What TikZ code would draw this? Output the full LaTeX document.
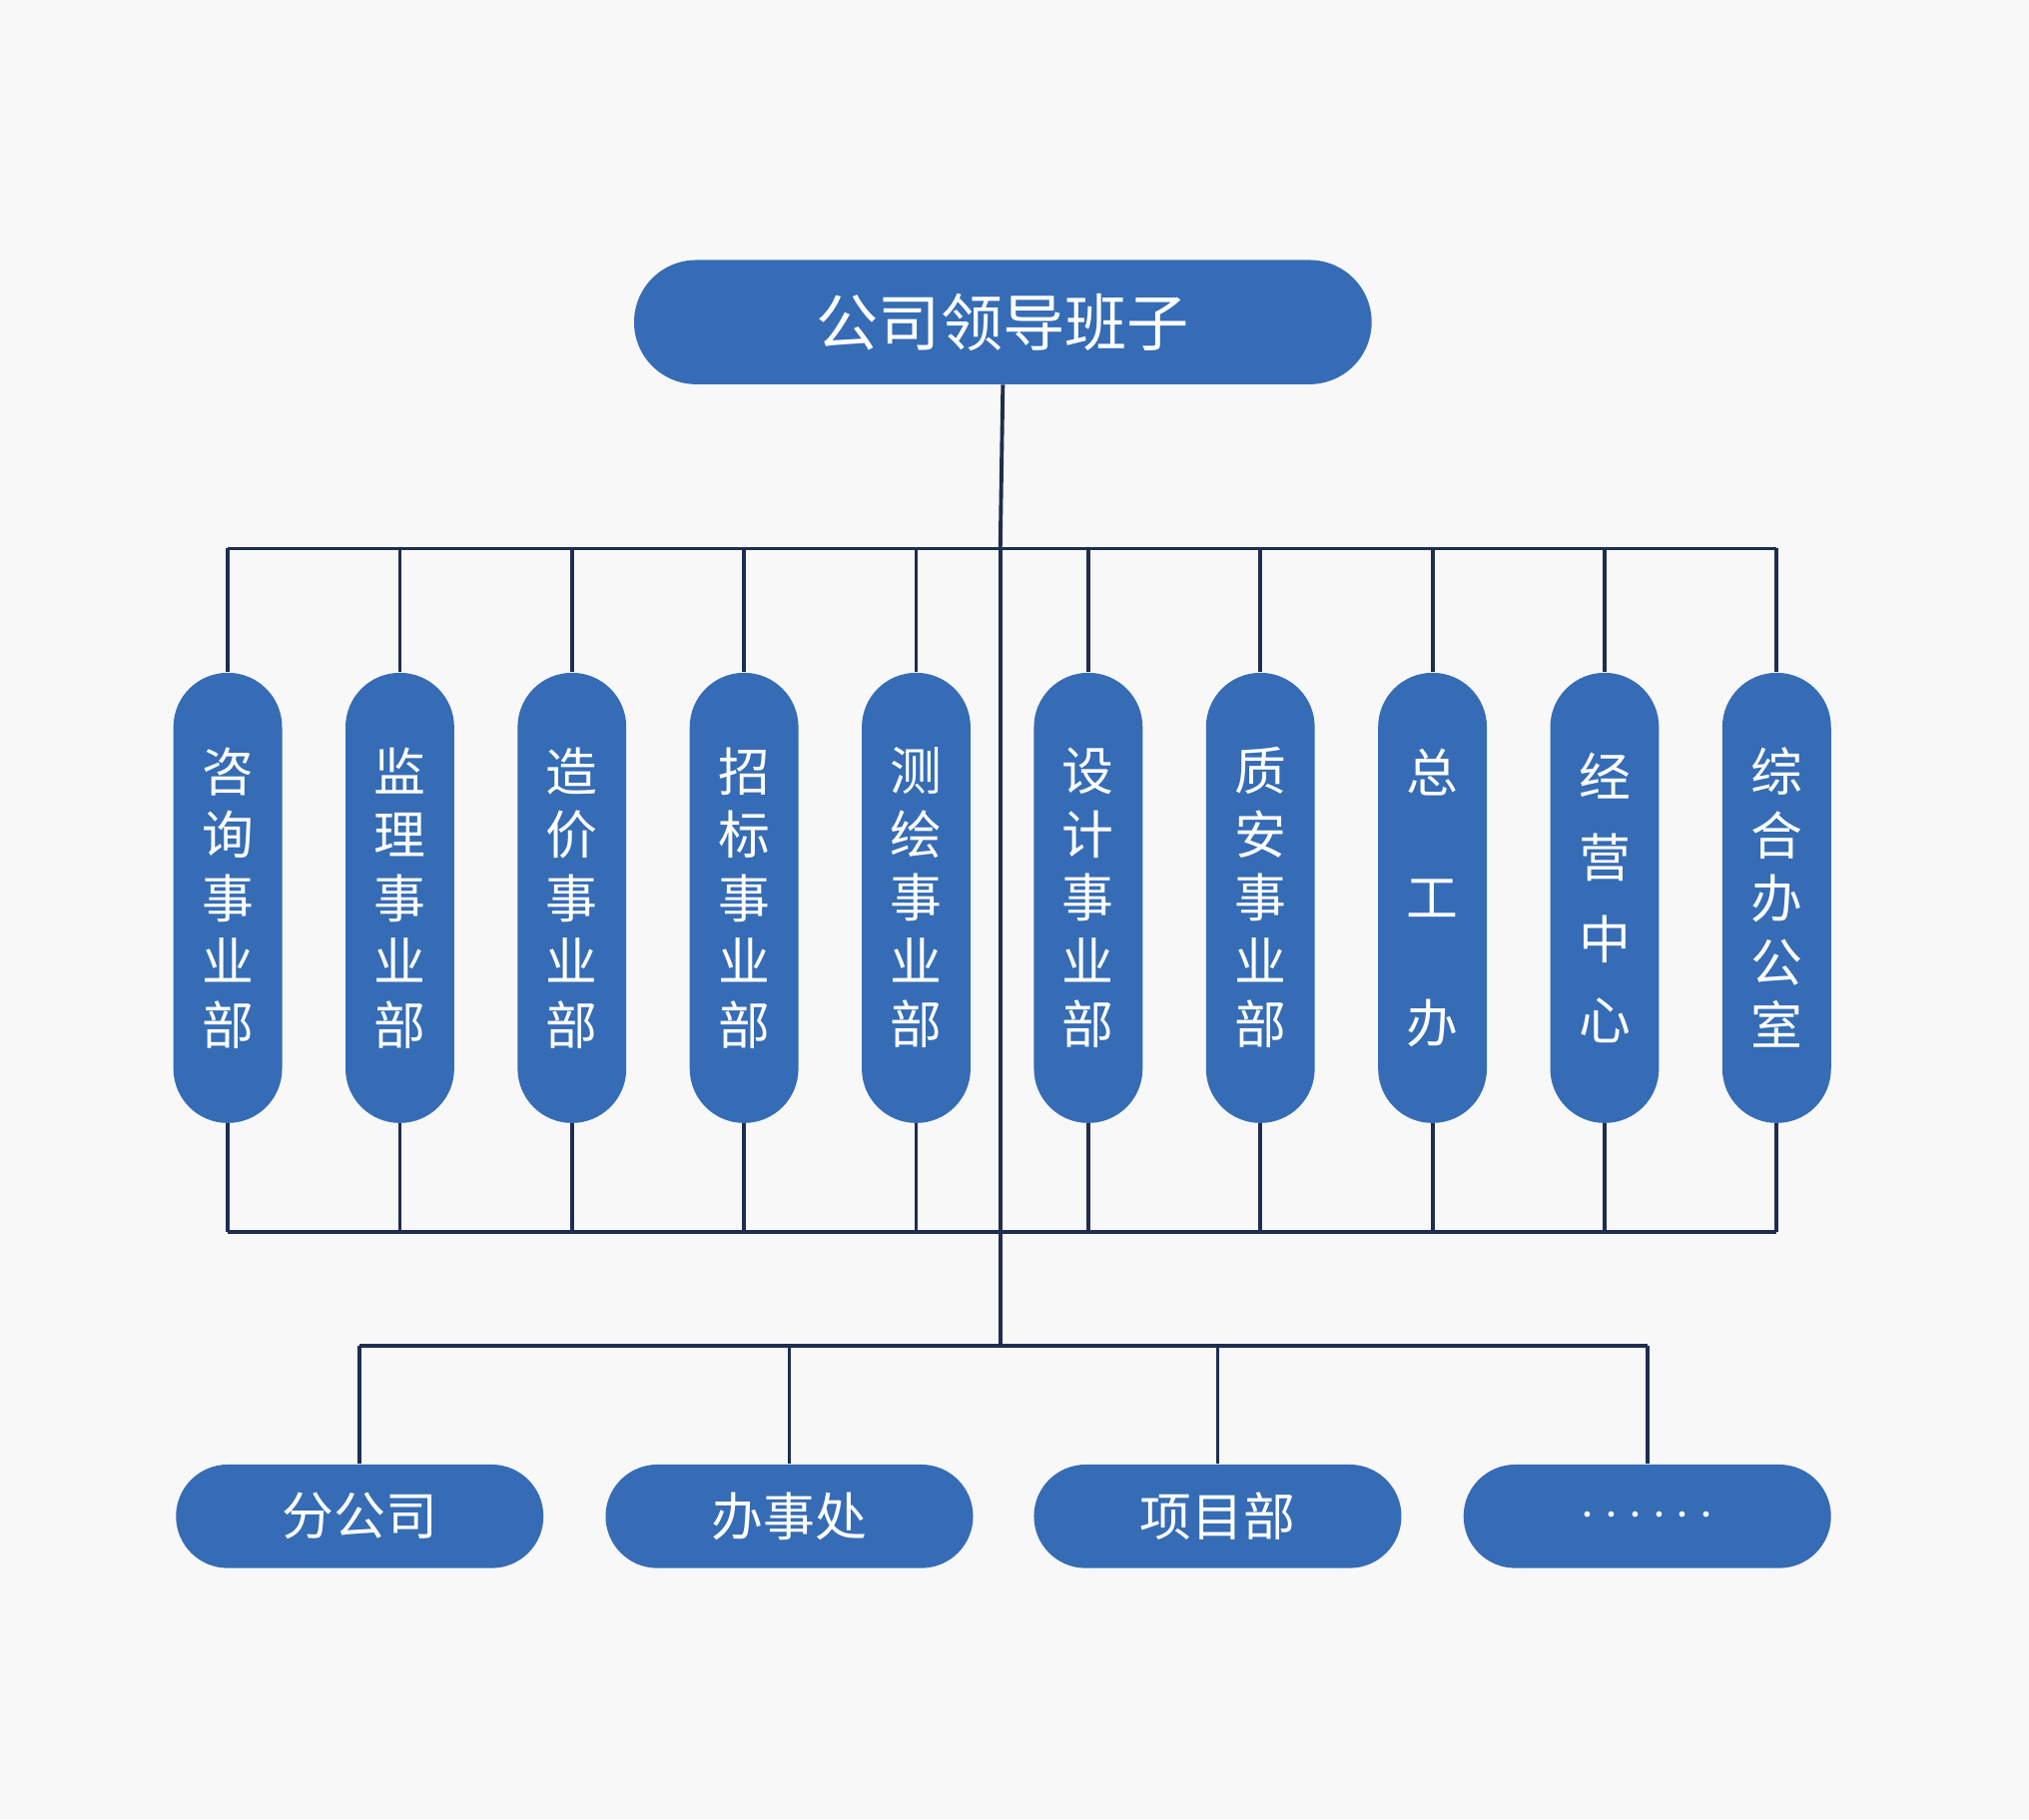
\documentclass[tikz,border=0pt]{standalone}
\usepackage{fontspec}
\setmainfont{Noto Sans CJK SC}
\usetikzlibrary{positioning}
\definecolor{boxblue}{HTML}{356CB5}
\definecolor{linedark}{HTML}{1F2D50}
\definecolor{bggray}{HTML}{F8F8F8}

\begin{document}
\begin{tikzpicture}[x=0.5pt, y=-0.5pt,
  box/.style = {draw=none, fill=boxblue, text=white, inner sep=0pt},
  topbox/.style = {box, minimum width=285pt, minimum height=48pt, rounded corners=24pt, font=\fontsize{24}{28}\selectfont},
  colbox/.style = {box, minimum width=42pt, minimum height=174pt, rounded corners=21pt, align=center},
  botbox/.style = {box, minimum width=142pt, minimum height=40pt, rounded corners=20pt, font=\fontsize{20}{24}\selectfont},
  link/.style = {draw=linedark, line width=1.5pt}]
  \fill[bggray] (0,0) rectangle (1568,1406);
  \useasboundingbox (0,0) rectangle (1568,1406);

  \node[topbox] (lead) at (775,249) {公司领导班子};

  % department columns
  \foreach \i/\x/\t/\s in {1/176/咨\\询\\事\\业\\部/24.5, 2/309/监\\理\\事\\业\\部/24.5,
      3/442/造\\价\\事\\业\\部/24.5, 4/575/招\\标\\事\\业\\部/24.5,
      5/708/测\\绘\\事\\业\\部/24.5, 6/841/设\\计\\事\\业\\部/24.5,
      7/974/质\\安\\事\\业\\部/24.5, 8/1107/总\\工\\办/48.5,
      9/1240/经\\营\\中\\心/31.5, 10/1373/综\\合\\办\\公\\室/24.5}
    \node[colbox, font=\fontsize{20}{\s}\selectfont] (dept\i) at (\x,694) {\t};

  % lower units
  \node[botbox] (branch) at (278,1172) {分公司};
  \node[botbox] (office) at (610,1172) {办事处};
  \node[botbox] (project) at (941,1172) {项目部};
  \node[botbox] (more) at (1273,1172) {$\cdots\cdots$};

  \coordinate (topbar) at (773,424);
  \coordinate (midbar) at (773,952);
  \coordinate (lowbar) at (773,1040);

  \draw[link] (lead.south) -- (topbar);
  \draw[link] (dept1.north |- topbar) -- (dept10.north |- topbar);
  \draw[link] (dept1.south |- midbar) -- (dept10.south |- midbar);
  \foreach \i in {1,...,10} {
    \draw[link] (dept\i.north |- topbar) -- (dept\i.north);
    \draw[link] (dept\i.south) -- (dept\i.south |- midbar);
  }
  \draw[link] (topbar) -- (midbar) -- (lowbar);
  \draw[link] (branch.north |- lowbar) -- (more.north |- lowbar);
  \foreach \n in {branch,office,project,more}
    \draw[link] (\n.north |- lowbar) -- (\n.north);
\end{tikzpicture}
\end{document}
